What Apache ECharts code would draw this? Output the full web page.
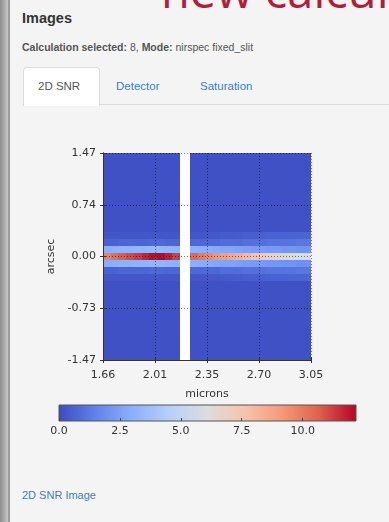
<!DOCTYPE html>
<html lang="en">
<head>
	<meta charset="UTF-8">
	<title>2D SNR</title>
	<style>
		body, div {
			margin: 0;
			padding: 0;
		}
		body {
			width: 389px;
			height: 522px;
			overflow: hidden;
			background: #f4f4f4;
			font-family: "Liberation Sans", Arial, sans-serif;
			position: relative;
		}
		#main {
			position: absolute;
			left: 0;
			top: 0;
			width: 389px;
			height: 522px;
		}
		.abs { position: absolute; white-space: nowrap; }
		#shadow { left: 0; top: 0; width: 8px; height: 522px; background: linear-gradient(to right, #8c8c8c, #c9c9c9); }
		#edge { left: 8px; top: 0; width: 2px; height: 522px; background: #9c9c9c; }
		#banner { left: 161px; top: -42px; font-size: 47px; color: #b31d3b; font-family: "Open Sans", sans-serif; }
		#title { left: 22px; top: 10px; font-size: 14.5px; font-weight: bold; color: #333; }
		#sub { left: 22px; top: 41px; font-size: 10.5px; color: #555; }
		#tabline { left: 23px; top: 104px; width: 366px; height: 1px; background: #dcdcdc; }
		#tab { left: 23px; top: 67px; width: 75px; height: 38px; background: #fff; border: 1px solid #dcdcdc; border-bottom: none; border-radius: 4px 4px 0 0; }
		.tabtxt { top: 80px; font-size: 11.5px; }
		#link { left: 22px; top: 489px; font-size: 11px; color: #3d7cc4; }
	</style>
</head>
<body>
	<div class="abs" id="shadow"></div>
	<div class="abs" id="edge"></div>
	<div class="abs" id="banner">new calculation</div>
	<div class="abs" id="title">Images</div>
	<div class="abs" id="sub"><b>Calculation selected:</b> 8, <b>Mode:</b> nirspec fixed_slit</div>
	<div class="abs" id="tabline"></div>
	<div class="abs" id="tab"></div>
	<div class="abs tabtxt" style="left:38px;color:#555;">2D SNR</div>
	<div class="abs tabtxt" style="left:116px;color:#3d7cc4;">Detector</div>
	<div class="abs tabtxt" style="left:200px;color:#3d7cc4;">Saturation</div>
	<div class="abs" id="link">2D SNR Image</div>

	<!-- chart -->
	<div id="main"></div>

	<script src="https://cdn.jsdelivr.net/npm/echarts@6/dist/echarts.min.js"></script>
	<script>
	// axis ranges and tick labels (matplotlib style, 5 ticks)
	var xMin = 1.66, xMax = 3.05;
	var yMin = -1.47, yMax = 1.47;
	var xTickLabels = ['1.66', '2.01', '2.35', '2.70', '3.05'];
	var yTickLabels = ['-1.47', '-0.73', '0.00', '0.74', '1.47'];
	var snrMax = 12.19;
	var cbarTicks = ['0.0', '2.5', '5.0', '7.5', '10.0'];

	// pixel columns in microns (gap between detectors is left empty)
	var colEdgesLeft = [1.660, 1.712, 1.763, 1.815, 1.866, 1.918, 1.969, 2.021, 2.072, 2.124, 2.175];
	var colEdgesRight = [2.241, 2.292, 2.342, 2.393, 2.443, 2.494, 2.544, 2.595, 2.646, 2.696, 2.747, 2.797, 2.848, 2.898, 2.949, 2.999, 3.050];
	// rows in arcsec, bottom to top
	var rowEdges = [-1.47, -0.35, -0.25, -0.15, -0.05, 0.05, 0.15, 0.25, 0.35, 1.47];

	// SNR per row (10 left columns, then 16 right columns)
	var snrBottom = [0.15, 0.15, 0.15, 0.15, 0.15, 0.15, 0.15, 0.15, 0.15, 0.15,
		0.15, 0.15, 0.15, 0.15, 0.15, 0.15, 0.15, 0.15, 0.15, 0.15, 0.15, 0.15, 0.15, 0.15, 0.15, 0.15];
	var snrM3 = [0.3, 0.3, 0.3, 0.3, 0.3, 0.3, 0.3, 0.3, 0.3, 0.3,
		0.3, 0.3, 0.35, 0.35, 0.4, 0.4, 0.45, 0.5, 0.5, 0.55, 0.6, 0.6, 0.6, 0.65, 0.65, 0.7];
	var snrM2 = [0.6, 0.6, 0.7, 0.7, 0.7, 0.7, 0.8, 0.8, 0.7, 0.7,
		0.8, 0.8, 0.8, 0.8, 0.9, 0.9, 0.9, 1.0, 1.0, 1.0, 1.1, 1.1, 1.1, 1.1, 1.2, 1.2];
	var snrM1 = [2.9, 3.0, 3.1, 3.1, 3.2, 3.2, 3.3, 3.3, 3.2, 3.1,
		3.0, 2.9, 2.8, 2.7, 2.6, 2.6, 2.5, 2.4, 2.3, 2.3, 2.2, 2.2, 2.1, 2.1, 2.0, 2.0];
	var snrCenter = [9.8, 10.3, 10.7, 11.0, 11.3, 11.7, 12.0, 12.1, 11.8, 11.2,
		10.4, 10.0, 9.6, 9.3, 9.0, 8.7, 8.4, 8.0, 7.7, 7.3, 7.0, 6.8, 6.6, 6.4, 6.2, 6.1];
	var snrP1 = [3.0, 3.1, 3.2, 3.2, 3.3, 3.3, 3.4, 3.4, 3.3, 3.2,
		3.1, 3.0, 2.9, 2.8, 2.7, 2.7, 2.6, 2.5, 2.4, 2.4, 2.3, 2.3, 2.2, 2.2, 2.1, 2.1];
	var snrP2 = [0.6, 0.6, 0.7, 0.7, 0.7, 0.7, 0.8, 0.8, 0.7, 0.7,
		0.8, 0.8, 0.8, 0.8, 0.9, 0.9, 0.9, 1.0, 1.0, 1.0, 1.1, 1.1, 1.1, 1.1, 1.2, 1.2];
	var snrP3 = [0.3, 0.3, 0.3, 0.3, 0.3, 0.3, 0.3, 0.3, 0.3, 0.3,
		0.3, 0.3, 0.35, 0.35, 0.4, 0.4, 0.45, 0.5, 0.5, 0.55, 0.6, 0.6, 0.6, 0.65, 0.65, 0.7];
	var snrTop = [0.15, 0.15, 0.15, 0.15, 0.15, 0.15, 0.15, 0.15, 0.15, 0.15,
		0.15, 0.15, 0.15, 0.15, 0.15, 0.15, 0.15, 0.15, 0.15, 0.15, 0.15, 0.15, 0.15, 0.15, 0.15, 0.15];
	var snrRows = [snrBottom, snrM3, snrM2, snrM1, snrCenter, snrP1, snrP2, snrP3, snrTop];

	// coolwarm
	var coolwarm = ['#3b4cc0', '#6282ea', '#8db0fe', '#b8d0f9', '#dddddd', '#f5c4ad', '#f49a7b', '#de604d', '#b40426'];

	// axes run 0..4 so the five ticks land exactly on the plot edges
	function xAx(w) { return (w - xMin) / (xMax - xMin) * 4; }
	function yAx(a) { return (a - yMin) / (yMax - yMin) * 4; }

	var cols = [];
	[colEdgesLeft, colEdgesRight].forEach(function (edges) {
		for (var i = 0; i < edges.length - 1; i++) cols.push([edges[i], edges[i + 1]]);
	});

	var cells = [];
	for (var r = 0; r < snrRows.length; r++) {
		for (var c = 0; c < cols.length; c++) {
			cells.push([xAx(cols[c][0]), xAx(cols[c][1]), yAx(rowEdges[r]), yAx(rowEdges[r + 1]), snrRows[r][c]]);
		}
	}

	var txt = { fontFamily: 'DejaVu Sans', fontSize: 11, color: '#333' };
	var frame = { show: true, lineStyle: { color: '#333', width: 1 } };
	var tick = { show: true, length: 3, lineStyle: { color: '#333' } };
	var dotted = { show: true, lineStyle: { color: 'rgba(0,0,0,0.5)', type: [1, 2], width: 1 } };

	var myEcharts = echarts.init(document.getElementById('main'));

	var options = {
		animation: false,
		grid: [
			{ left: 103, top: 153, width: 208, height: 207, show: true, backgroundColor: '#fff', borderWidth: 0 },
			{ left: 59, top: 405, width: 297, height: 16 }
		],
		visualMap: {
			type: 'continuous', show: false, seriesIndex: 0, dimension: 4,
			min: 0, max: snrMax,
			inRange: { color: coolwarm }
		},
		xAxis: [
			{
				type: 'value', gridIndex: 0, min: 0, max: 4, interval: 1, position: 'bottom', z: 5,
				axisLine: frame, axisTick: tick, splitLine: dotted,
				axisLabel: Object.assign({ margin: 10, formatter: function (v) { return xTickLabels[Math.round(v)]; } }, txt),
				name: 'microns', nameLocation: 'middle', nameGap: 29, nameTextStyle: txt
			},
			{
				type: 'value', gridIndex: 0, min: 0, max: 4, interval: 1, position: 'top', z: 5,
				axisLine: frame, axisTick: tick, splitLine: { show: false }, axisLabel: { show: false }
			},
			{
				type: 'value', gridIndex: 1, min: 0, max: snrMax, interval: 2.5, position: 'bottom', z: 5,
				axisLine: { show: false }, splitLine: { show: false },
				axisTick: { show: true, inside: true, length: 3, lineStyle: { color: '#444' } },
				axisLabel: Object.assign({ margin: 5, showMaxLabel: false, formatter: function (v) { return cbarTicks[Math.round(v / 2.5)] || ''; } }, txt)
			}
		],
		yAxis: [
			{
				type: 'value', gridIndex: 0, min: 0, max: 4, interval: 1, position: 'left', z: 5,
				axisLine: frame, axisTick: tick, splitLine: dotted,
				axisLabel: Object.assign({ margin: 7, formatter: function (v) { return yTickLabels[Math.round(v)]; } }, txt),
				name: 'arcsec', nameLocation: 'middle', nameGap: 40, nameRotate: 90, nameTextStyle: txt
			},
			{
				type: 'value', gridIndex: 0, min: 0, max: 4, interval: 1, position: 'right', z: 5,
				axisLine: frame, axisTick: tick, splitLine: { show: false }, axisLabel: { show: false }
			},
			{
				type: 'value', gridIndex: 1, min: 0, max: 1, show: false
			}
		],
		series: [
			{
				type: 'custom', xAxisIndex: 0, yAxisIndex: 0, z: 2,
				dimensions: ['x0', 'x1', 'y0', 'y1', 'snr'],
				encode: { x: [0, 1], y: [2, 3] },
				data: cells,
				renderItem: function (params, api) {
					var p0 = api.coord([api.value(0), api.value(2)]);
					var p1 = api.coord([api.value(1), api.value(3)]);
					var x0 = Math.round(p0[0]), x1 = Math.round(p1[0]);
					var yb = Math.round(p0[1]), yt = Math.round(p1[1]);
					return {
						type: 'rect',
						shape: { x: x0, y: yt, width: x1 - x0, height: yb - yt },
						style: { fill: api.visual('color'), stroke: null, lineWidth: 0 }
					};
				}
			},
			{
				type: 'custom', xAxisIndex: 2, yAxisIndex: 2, z: 2,
				data: [[0, snrMax]],
				renderItem: function (params, api) {
					var p0 = api.coord([api.value(0), 0]);
					var p1 = api.coord([api.value(1), 1]);
					var stops = coolwarm.map(function (col, i) { return { offset: i / (coolwarm.length - 1), color: col }; });
					return {
						type: 'rect',
						shape: { x: p0[0], y: p1[1], width: p1[0] - p0[0], height: p0[1] - p1[1] },
						style: { fill: new echarts.graphic.LinearGradient(0, 0, 1, 0, stops), stroke: '#555', lineWidth: 1 }
					};
				}
			}
		]
	};

	myEcharts.setOption(options);
	</script>
</body>
</html>
